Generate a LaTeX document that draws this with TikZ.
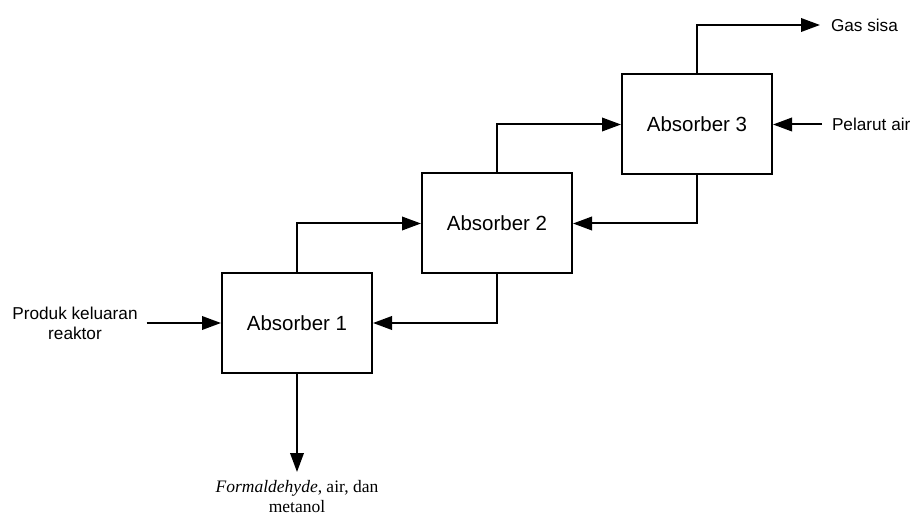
\documentclass[tikz,border=0pt]{standalone}
\usepackage{fontspec}
\setmainfont{Liberation Serif}
\setsansfont{Liberation Sans}
\usetikzlibrary{arrows.meta}

\begin{document}
\begin{tikzpicture}[x=1pt,y=-1pt,line width=2pt,>={Triangle[length=19pt,width=13.5pt]},
	absorber/.style={draw,rectangle,minimum width=150pt,minimum height=100pt,inner sep=0pt,font=\sffamily\fontsize{20.5}{24}\selectfont},
	stream/.style={font=\sffamily\fontsize{17.2}{20}\selectfont,align=center}]
	\useasboundingbox (0,0) rectangle (911,513);
	
	\node[absorber] (a1) at (297,323)  {Absorber 1};
	\node[absorber] (a2) at (497,223.5)  {Absorber 2};
	\node[absorber] (a3) at (697,124.5)  {Absorber 3};
	
	\node[stream,inner xsep=8pt] (produk) at (75,323) {Produk keluaran\\reaktor};
	\node[stream,anchor=west,inner sep=0pt] (gas) at (830,25) {Gas sisa};
	\node[stream,anchor=west,inner sep=0pt] (pelarut) at (831,124.5) {Pelarut air};
	\node[align=center,anchor=north,inner sep=0pt,font=\fontsize{17.5}{20.5}\selectfont] (produkbawah) at (297,479) {\textit{Formaldehyde}, air, dan\\metanol};
	\coordinate (gastip) at (820,25);
	\coordinate (pelarutawal) at (822,124.5);
	\coordinate (bawahtip) at (297,472);
	
	\draw[->] (produk.east) -- (a1.west);
	\draw[->] (a1.north) |- (a2.west);
	\draw[->] (a2.south) |- (a1.east);
	\draw[->] (a2.north) |- (a3.west);
	\draw[->] (a3.south) |- (a2.east);
	\draw[->] (a3.north) |- (gastip);
	\draw[->] (pelarutawal) -- (a3.east);
	\draw[->] (a1.south) -- (bawahtip);
	
\end{tikzpicture}
\end{document}
